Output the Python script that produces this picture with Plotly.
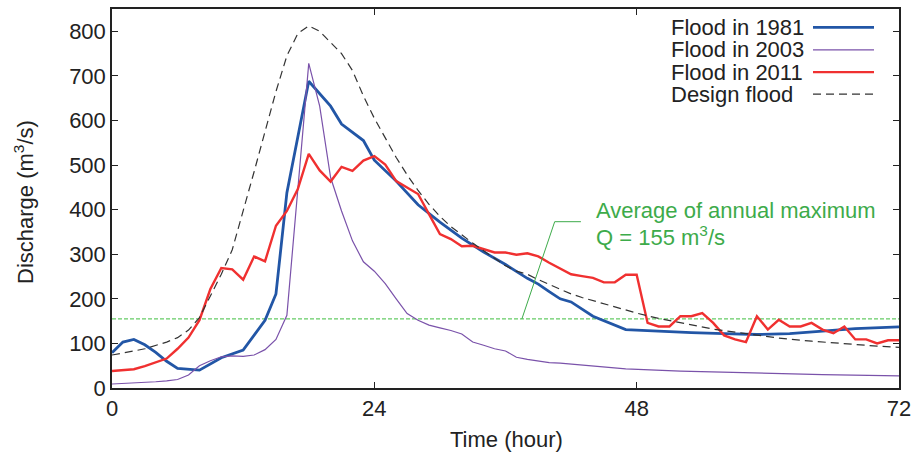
import plotly.graph_objects as go

# ---------------- data ----------------
t_1981 = [0, 1, 2, 3, 4, 5, 6, 8, 10, 12, 14, 15, 16, 18, 20, 21, 23, 24, 26, 28, 30, 32, 34, 36,
          38, 39, 40, 41, 42, 43, 44, 47, 50, 53, 56, 59, 62, 65, 68, 72]
q_1981 = [79, 103, 109, 97, 80, 60, 44, 40, 68, 85, 152, 211, 438, 688, 632, 592, 555, 511, 464, 411,
          372, 336, 305, 277, 246, 233, 216, 200, 193, 177, 161, 131, 127, 124, 122, 120, 122, 128, 133, 137]

t_2003 = [0, 1, 2, 3, 4, 5, 6, 7, 8, 9, 10, 11, 12, 13, 14, 15, 16, 18, 19, 20, 21, 22, 23, 24, 25,
          26, 27, 28, 29, 30, 31, 32, 33, 34, 35, 36, 37, 38, 39, 40, 41, 44, 47, 52, 59, 65, 72]
q_2003 = [9, 10, 11, 12, 14, 16, 19, 29, 50, 61, 70, 72, 71, 74, 86, 109, 163, 728, 632, 472, 397, 330,
          283, 262, 234, 200, 167, 152, 141, 135, 129, 121, 103, 96, 88, 83, 69, 64, 60, 57, 56, 50, 43,
          38, 33, 30, 27]

t_2011 = list(range(0, 73))
q_2011 = [38, 40, 42, 49, 57, 66, 88, 113, 152, 222, 269, 266, 243, 295, 284, 364, 397, 446, 525, 488,
          463, 496, 487, 510, 520, 501, 464, 449, 435, 390, 345, 334, 318, 319, 311, 304, 304, 299, 302,
          295, 281, 268, 255, 251, 247, 237, 237, 254, 254, 146, 138, 138, 161, 161, 168, 146, 118, 109,
          103, 161, 131, 153, 138, 138, 146, 131, 123, 138, 109, 109, 100, 107, 107]

t_design = [0, 1, 2, 3, 4, 5, 6, 7, 8, 9, 10, 11, 12, 13, 14, 15, 16, 17, 18, 19, 20, 21, 22, 23, 24,
            25, 26, 27, 28, 29, 30, 31, 32, 33, 34, 35, 36, 37, 38, 39, 40, 41, 42, 43, 44, 46, 48, 50,
            52, 55, 58, 61, 64, 67, 70, 72]
q_design = [74, 78, 83, 88, 95, 103, 113, 130, 158, 205, 255, 310, 395, 485, 575, 665, 745, 795, 812,
            800, 775, 750, 712, 655, 605, 560, 517, 478, 443, 412, 385, 362, 343, 325, 308, 290, 274,
            262, 255, 243, 232, 221, 211, 203, 196, 181, 168, 156, 146, 132, 122, 112, 105, 99, 94, 91]

AVG_Q = 155
x_ticks = [0, 24, 48, 72]
y_ticks = [0, 100, 200, 300, 400, 500, 600, 700, 800]

series_names = ["Flood in 1981", "Flood in 2003", "Flood in 2011", "Design flood"]
colors = ["#2256a6", "#7a52aa", "#f03030", "#333333"]
widths = [2.8, 1.2, 2.4, 1.2]
dashes = ["solid", "solid", "solid", "8px,5px"]

FONT = "Liberation Sans, Arial, sans-serif"
FS = 22
GREEN = "#3dab4a"

fig = go.Figure()

# average annual maximum line
fig.add_trace(go.Scatter(x=[0, 72], y=[AVG_Q, AVG_Q], mode="lines",
                         line=dict(color="#66cc66", width=1.3, dash="4px,2px"),
                         showlegend=False, hoverinfo="skip"))

data = [(t_1981, q_1981), (t_2003, q_2003), (t_2011, q_2011), (t_design, q_design)]
for (tx, qy), name, c, w, d in zip(data, series_names, colors, widths, dashes):
    fig.add_trace(go.Scatter(x=tx, y=qy, mode="lines", name=name,
                             line=dict(color=c, width=w, dash=d), showlegend=False))

# ---- custom legend (text left, sample right, like gnuplot) ----
plot_l, plot_r, plot_t, plot_b = 112, 899, 7, 388
def px2paper_x(px):
    return (px - plot_l) / (plot_r - plot_l)
def py2paper_y(py):
    return (plot_b - py) / (plot_b - plot_t)

row_y = [25.5, 48, 70.5, 92.5]
for name, c, w, d, ry in zip(series_names, colors, widths, dashes, row_y):
    fig.add_annotation(x=px2paper_x(669), y=py2paper_y(ry), xref="paper", yref="paper",
                       text=name, showarrow=False, xanchor="left", yanchor="middle",
                       font=dict(family=FONT, size=FS, color="#222222"))
    fig.add_shape(type="line", xref="paper", yref="paper",
                  x0=px2paper_x(813), x1=px2paper_x(874),
                  y0=py2paper_y(ry), y1=py2paper_y(ry),
                  line=dict(color=c, width=w, dash=d))

# ---- annotation for average annual maximum ----
fig.add_annotation(x=px2paper_x(594), y=py2paper_y(210), xref="paper", yref="paper",
                   text="Average of annual maximum", showarrow=False,
                   xanchor="left", yanchor="middle",
                   font=dict(family=FONT, size=FS, color=GREEN))
fig.add_annotation(x=px2paper_x(594), y=py2paper_y(235), xref="paper", yref="paper",
                   text="Q = 155 m<sup>3</sup>/s", showarrow=False,
                   xanchor="left", yanchor="middle",
                   font=dict(family=FONT, size=FS, color=GREEN))
fig.add_shape(type="line", xref="x", yref="y", x0=37.5, y0=AVG_Q, x1=40.5, y1=373,
              line=dict(color=GREEN, width=1))
fig.add_shape(type="line", xref="x", yref="y", x0=40.5, y0=373, x1=42.9, y1=373,
              line=dict(color=GREEN, width=1))

# ---- axis titles ----
fig.add_annotation(x=px2paper_x(507), y=py2paper_y(440), xref="paper", yref="paper",
                   text="Time (hour)", showarrow=False, xanchor="center", yanchor="middle",
                   font=dict(family=FONT, size=FS, color="#222222"))
fig.add_annotation(x=px2paper_x(24), y=py2paper_y(201), xref="paper", yref="paper",
                   text="Discharge (m<sup>3</sup>/s)", showarrow=False, textangle=-90,
                   xanchor="center", yanchor="middle",
                   font=dict(family=FONT, size=FS, color="#222222"))

fig.update_xaxes(range=[0, 72], tickvals=x_ticks, ticktext=[str(v) for v in x_ticks],
                 ticks="inside", ticklen=6, tickcolor="#222", showgrid=False, zeroline=False,
                 showline=True, linecolor="#222", linewidth=1.5, mirror="ticks",
                 tickfont=dict(family=FONT, size=FS, color="#222222"))
fig.update_yaxes(range=[0, 850], tickvals=y_ticks, ticktext=[str(v) for v in y_ticks],
                 ticks="inside", ticklen=6, tickcolor="#222", showgrid=False, zeroline=False,
                 showline=True, linecolor="#222", linewidth=1.5, mirror="ticks",
                 tickfont=dict(family=FONT, size=FS, color="#222222"))

fig.update_layout(width=920, height=457, margin=dict(l=plot_l, r=920 - plot_r, t=plot_t, b=457 - plot_b),
                  paper_bgcolor="white", plot_bgcolor="white", showlegend=False)

fig.write_html("out.html", config={"displayModeBar": False},
               post_script="document.body.style.margin='0';document.body.style.overflow='hidden';")
